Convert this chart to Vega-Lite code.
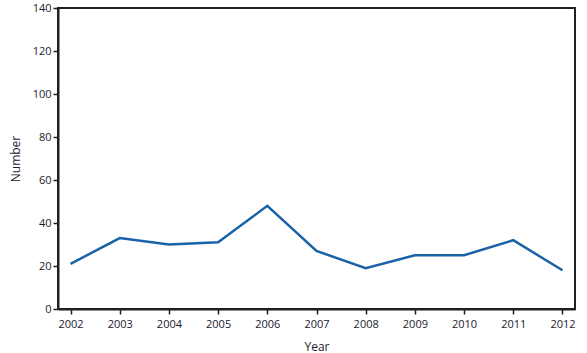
{
  "$schema": "https://vega.github.io/schema/vega-lite/v6.json",
  "autosize": {"type": "none"},
  "padding": {"left": 58, "top": 8, "right": 12, "bottom": 44},
  "width": 517,
  "height": 301,
  "background": "white",
  "config": {
    "view": {"stroke": "#231f20", "strokeWidth": 2},
    "axis": {
      "labelFont": "Open Sans",
      "titleFont": "Open Sans",
      "labelFontSize": 11,
      "titleFontSize": 12,
      "titleFontWeight": "normal",
      "labelColor": "#1a1a2e",
      "titleColor": "#1a1a2e",
      "domainColor": "#231f20",
      "domainWidth": 2,
      "tickColor": "#231f20",
      "tickWidth": 1.5,
      "tickSize": 5,
      "grid": false
    }
  },
  "data": {
    "values": [
      {"year": "2002", "number": 21},
      {"year": "2003", "number": 33},
      {"year": "2004", "number": 30},
      {"year": "2005", "number": 31},
      {"year": "2006", "number": 48},
      {"year": "2007", "number": 27},
      {"year": "2008", "number": 19},
      {"year": "2009", "number": 25},
      {"year": "2010", "number": 25},
      {"year": "2011", "number": 32},
      {"year": "2012", "number": 18}
    ]
  },
  "mark": {"type": "line", "color": "#1a62a8", "strokeWidth": 2.5},
  "encoding": {
    "x": {
      "field": "year",
      "type": "ordinal",
      "scale": {"type": "point", "padding": 0.255},
      "axis": {"title": "Year", "labelAngle": 0, "labelPadding": 4, "titlePadding": 12}
    },
    "y": {
      "field": "number",
      "type": "quantitative",
      "scale": {"domain": [0, 140], "nice": false},
      "axis": {"title": "Number", "values": [0, 20, 40, 60, 80, 100, 120, 140], "labelPadding": 2, "titlePadding": 10}
    }
  }
}
